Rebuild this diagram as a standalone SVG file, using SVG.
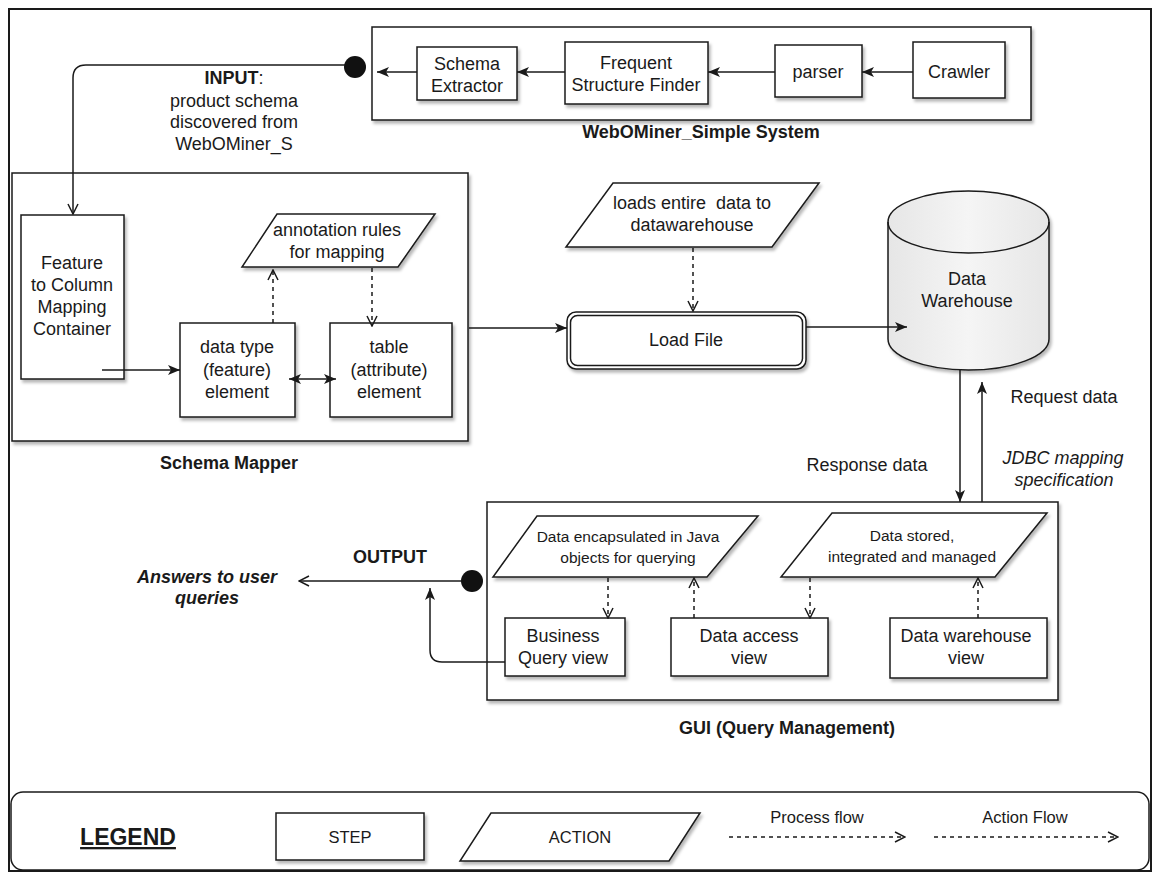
<svg xmlns="http://www.w3.org/2000/svg" width="1159" height="873" viewBox="0 0 1159 873">
<defs>
<style>
text{font-family:"Liberation Sans",Arial,Helvetica,sans-serif;fill:#1a1a1a;}
.t18{font-size:18px;text-anchor:middle;}
.t15{font-size:15.5px;text-anchor:middle;}
.t16{font-size:16.5px;text-anchor:middle;}
.b{font-weight:bold;}
.box{fill:#fff;stroke:#1a1a1a;stroke-width:1.5;}
.frame{fill:none;stroke:#1a1a1a;stroke-width:1.5;}
.ln{fill:none;stroke:#1a1a1a;stroke-width:1.5;}
.dash{fill:none;stroke:#1a1a1a;stroke-width:1.5;stroke-dasharray:4 4;}
</style>
<filter id="sh" x="-10%" y="-10%" width="130%" height="140%">
<feDropShadow dx="2" dy="3" stdDeviation="1.5" flood-color="#000" flood-opacity="0.28"/>
</filter>
<linearGradient id="cyl" x1="0" y1="0" x2="1" y2="0">
<stop offset="0" stop-color="#e6e6e6"/>
<stop offset="0.5" stop-color="#f5f5f5"/>
<stop offset="1" stop-color="#e6e6e6"/>
</linearGradient>
<marker id="fa" viewBox="0 0 12 10" refX="12" refY="5" markerWidth="12" markerHeight="10" markerUnits="userSpaceOnUse" orient="auto">
<path d="M0,0 L12,5 L0,10 L3,5 Z" fill="#1a1a1a"/>
</marker>
<marker id="fas" viewBox="0 0 12 10" refX="12" refY="5" markerWidth="12" markerHeight="10" markerUnits="userSpaceOnUse" orient="auto-start-reverse">
<path d="M0,0 L12,5 L0,10 L3,5 Z" fill="#1a1a1a"/>
</marker>
<marker id="oa" viewBox="0 0 12 12" refX="11" refY="6" markerWidth="12" markerHeight="12" markerUnits="userSpaceOnUse" orient="auto">
<path d="M1,1 L11,6 L1,11" fill="none" stroke="#1a1a1a" stroke-width="1.5"/>
</marker>
</defs>

<rect width="1159" height="873" fill="#fff"/>
<!-- outer frame -->
<rect x="9" y="9" width="1142" height="862" fill="none" stroke="#1a1a1a" stroke-width="2"/>

<!-- WebOMiner system -->
<g id="webominer-system">
<rect x="372" y="27" width="659" height="93" class="box" filter="url(#sh)"/>
<text x="701" y="138" class="t18 b">WebOMiner_Simple System</text>
</g>
<g id="schema-extractor">
<rect x="417" y="47" width="100" height="53" class="box" filter="url(#sh)"/>
<text x="467" y="70" class="t18">Schema</text>
<text x="467" y="92" class="t18">Extractor</text>
</g>
<g id="frequent-structure-finder">
<rect x="565" y="42" width="143" height="62" class="box" filter="url(#sh)"/>
<text x="636" y="69" class="t18">Frequent</text>
<text x="636" y="91" class="t18">Structure Finder</text>
</g>
<g id="parser">
<rect x="775" y="45" width="87" height="52" class="box" filter="url(#sh)"/>
<text x="818" y="78" class="t18">parser</text>
</g>
<g id="crawler">
<rect x="913" y="42" width="92" height="56" class="box" filter="url(#sh)"/>
<text x="959" y="78" class="t18">Crawler</text>
</g>

<!-- Input label -->
<g id="input-label">
<text x="234" y="84" class="t18"><tspan class="b">INPUT</tspan>:</text>
<text x="234" y="107" class="t18">product schema</text>
<text x="234" y="128" class="t18">discovered from</text>
<text x="234" y="150" class="t18">WebOMiner_S</text>
</g>

<!-- Schema mapper -->
<g id="schema-mapper">
<rect x="12" y="173" width="456" height="268" class="box" filter="url(#sh)"/>
<text x="229" y="469" class="t18 b">Schema Mapper</text>
</g>
<g id="feature-container">
<rect x="21" y="215" width="103" height="164" class="box" filter="url(#sh)"/>
<text x="72" y="269" class="t18">Feature</text>
<text x="72" y="291" class="t18">to Column</text>
<text x="72" y="313" class="t18">Mapping</text>
<text x="72" y="335" class="t18">Container</text>
</g>
<g id="data-type-element">
<rect x="180" y="323" width="115" height="94" class="box" filter="url(#sh)"/>
<text x="237" y="353" class="t18">data type</text>
<text x="237" y="376" class="t18">(feature)</text>
<text x="237" y="398" class="t18">element</text>
</g>
<g id="table-element">
<rect x="330" y="323" width="122" height="94" class="box" filter="url(#sh)"/>
<text x="389" y="353" class="t18">table</text>
<text x="389" y="376" class="t18">(attribute)</text>
<text x="389" y="398" class="t18">element</text>
</g>
<g id="annotation-rules">
<polygon points="277,214 435,214 398,267 242,267" class="box" filter="url(#sh)"/>
<text x="337" y="236" class="t18">annotation rules</text>
<text x="337" y="258" class="t18">for mapping</text>
</g>

<!-- Load -->
<g id="loads-entire-data">
<polygon points="613,183 819,183 772,247 566,247" class="box" filter="url(#sh)"/>
<text x="692" y="209" class="t18">loads entire &#160;data to</text>
<text x="692" y="231" class="t18">datawarehouse</text>
</g>
<g id="load-file">
<rect x="567" y="312" width="239" height="57" rx="9" class="box" filter="url(#sh)"/>
<rect x="570.5" y="315.5" width="232" height="50" rx="7" class="frame"/>
<text x="686" y="346" class="t18">Load File</text>
</g>

<!-- Data warehouse -->
<g id="data-warehouse">
<path d="M888,222 A80.5,31 0 0 1 1049,222 L1049,339 A80.5,31 0 0 1 888,339 Z" fill="url(#cyl)" stroke="#1a1a1a" stroke-width="1.5" filter="url(#sh)"/>
<path d="M888,222 A80.5,31 0 0 0 1049,222" class="frame"/>
<text x="967" y="285" class="t18">Data</text>
<text x="967" y="307" class="t18">Warehouse</text>
</g>

<!-- connector labels -->
<g id="dw-labels">
<text x="1064" y="403" class="t18">Request data</text>
<text x="867" y="471" class="t18">Response data</text>
<text x="1063" y="464" class="t18" font-style="italic">JDBC mapping</text>
<text x="1064" y="486" class="t18" font-style="italic">specification</text>
</g>

<!-- GUI -->
<g id="gui">
<rect x="487" y="502" width="571" height="198" class="box" filter="url(#sh)"/>
<text x="787" y="734" class="t18 b">GUI (Query Management)</text>
</g>
<g id="data-encapsulated">
<polygon points="537,516 758,516 707,577 493,577" class="box" filter="url(#sh)"/>
<text x="628" y="542" class="t15">Data encapsulated in Java</text>
<text x="628" y="563" class="t15">objects for querying</text>
</g>
<g id="data-stored">
<polygon points="832,513 1047,513 995,577 781,577" class="box" filter="url(#sh)"/>
<text x="912" y="541" class="t15">Data stored,</text>
<text x="912" y="562" class="t15">integrated and managed</text>
</g>
<g id="business-query-view">
<rect x="505" y="618" width="120" height="58" class="box" filter="url(#sh)"/>
<text x="563" y="642" class="t18">Business</text>
<text x="563" y="664" class="t18">Query view</text>
</g>
<g id="data-access-view">
<rect x="671" y="618" width="157" height="58" class="box" filter="url(#sh)"/>
<text x="749" y="642" class="t18">Data access</text>
<text x="749" y="664" class="t18">view</text>
</g>
<g id="data-warehouse-view">
<rect x="890" y="618" width="157" height="60" class="box" filter="url(#sh)"/>
<text x="966" y="642" class="t18">Data warehouse</text>
<text x="966" y="664" class="t18">view</text>
</g>

<!-- Output -->
<g id="output-label">
<text x="390" y="563" class="t18 b">OUTPUT</text>
</g>
<g id="answers">
<text x="207" y="583" class="t18 b" font-style="italic">Answers to user</text>
<text x="207" y="604" class="t18 b" font-style="italic">queries</text>
</g>

<!-- Connectors -->
<g id="connectors">
<path d="M913,72 L862,72" class="ln" marker-end="url(#fa)"/>
<path d="M775,72 L708,72" class="ln" marker-end="url(#fa)"/>
<path d="M565,72 L517,72" class="ln" marker-end="url(#fa)"/>
<path d="M417,72 L377,72" class="ln" marker-end="url(#fa)"/>
<circle cx="355" cy="67" r="11" fill="#111"/>
<path d="M345,65 L86,65 Q73,65 73,78 L73,214" class="ln" marker-end="url(#oa)"/>
<path d="M102,370 L180,370" class="ln" marker-end="url(#fa)"/>
<path d="M289,379 L336,379" class="ln" marker-start="url(#fas)" marker-end="url(#fa)"/>
<path d="M273,323 L273,270" class="dash" marker-end="url(#oa)"/>
<path d="M372,268 L372,326" class="dash" marker-end="url(#oa)"/>
<path d="M693,248 L693,311" class="dash" marker-end="url(#oa)"/>
<path d="M469,328 L567,328" class="ln" marker-end="url(#fa)"/>
<path d="M806,327 L907,327" class="ln" marker-end="url(#fa)"/>
<path d="M960,370 L960,502" class="ln" marker-end="url(#fa)"/>
<path d="M982,502 L982,382" class="ln" marker-end="url(#fa)"/>
<path d="M608,578 L608,618" class="dash" marker-end="url(#oa)"/>
<path d="M694,618 L694,578" class="dash" marker-end="url(#oa)"/>
<path d="M810,578 L810,618" class="dash" marker-end="url(#oa)"/>
<path d="M978,618 L978,578" class="dash" marker-end="url(#oa)"/>
<circle cx="472" cy="581" r="11" fill="#111"/>
<path d="M462,581 L299,581" class="ln" marker-end="url(#oa)"/>
<path d="M505,662 L442,662 Q430,662 430,650 L430,588" class="ln" marker-end="url(#fa)"/>
</g>

<!-- Legend -->
<g id="legend">
<rect x="11" y="792" width="1138" height="78" rx="12" class="box"/>
<text x="128" y="845" font-size="23" font-weight="bold" text-anchor="middle" text-decoration="underline">LEGEND</text>
<rect x="276" y="813" width="148" height="47" class="box" filter="url(#sh)"/>
<text x="350" y="843" class="t16">STEP</text>
<polygon points="491,813 700,813 669,861 460,861" class="box" filter="url(#sh)"/>
<text x="580" y="843" class="t16">ACTION</text>
<text x="817" y="823" class="t16">Process flow</text>
<path d="M729,837 L905,837" class="dash" stroke-width="1.2" stroke-dasharray="3 3" marker-end="url(#oa)"/>
<text x="1025" y="823" class="t16">Action Flow</text>
<path d="M934,837 L1118,837" class="dash" stroke-width="1.2" stroke-dasharray="3 3" marker-end="url(#oa)"/>
</g>
</svg>
